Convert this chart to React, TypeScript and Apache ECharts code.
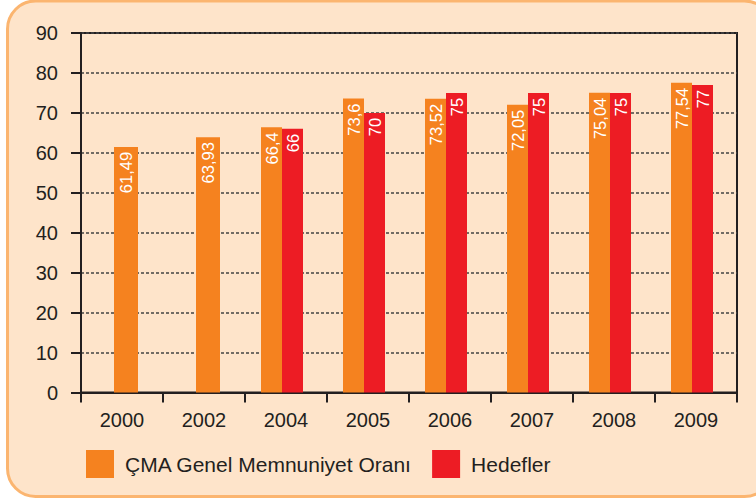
import React, { useEffect, useRef } from "react";
import * as echarts from "echarts";

const categories = ["2000", "2002", "2004", "2005", "2006", "2007", "2008", "2009"];
const satisfaction = [61.49, 63.93, 66.4, 73.6, 73.52, 72.05, 75.04, 77.54];
const targets: (number | null)[] = [null, null, 66, 70, 75, 75, 75, 77];
const yTicks = { min: 0, max: 90, interval: 10 };
const SAT_NAME = "ÇMA Genel Memnuniyet Oranı";
const TARGET_NAME = "Hedefler";

const FONT = "Liberation Sans, Arial, Helvetica, sans-serif";
const DARK = "#231f20";
const ORANGE = "#f5821f";
const RED = "#ed1c24";

export default function App() {
  const ref = useRef<HTMLDivElement>(null);
  useEffect(() => {
    if (!ref.current) return;
    const chart = echarts.init(ref.current, null, { renderer: "svg" });
    const paired = satisfaction.map((v, i) => (targets[i] == null ? null : v));
    const single = satisfaction.map((v, i) => (targets[i] == null ? v : null));
    const empty = categories.map(() => null);
    const label = {
      show: true,
      position: "insideTop",
      rotate: 90,
      align: "right",
      verticalAlign: "middle",
      distance: 5,
      color: "#ffffff",
      fontSize: 16.5,
      fontFamily: FONT,
      formatter: (p: any) => String(p.value).replace(".", ","),
    };
    chart.setOption({
      animation: false,
      textStyle: { fontFamily: FONT },
      graphic: [
        {
          type: "rect",
          z: -10,
          silent: true,
          shape: { x: 7.5, y: 1, width: 765, height: 495.5, r: 28 },
          style: { fill: "#fee4ca", stroke: "#fbb570", lineWidth: 3 },
        },
      ],
      legend: {
        data: [SAT_NAME, TARGET_NAME],
        left: 86,
        top: 450,
        padding: 0,
        itemWidth: 28,
        itemHeight: 28,
        itemGap: 20,
        icon: "rect",
        textStyle: { fontSize: 21, color: DARK, fontFamily: FONT, padding: [0, 0, 0, 6] },
      },
      grid: {
        left: 81,
        right: 19,
        top: 33,
        bottom: 106.5,
        show: true,
        borderColor: DARK,
        borderWidth: 2,
        backgroundColor: "transparent",
        containLabel: false,
        outerBoundsMode: "none",
      },
      xAxis: [
        {
          type: "category",
          data: categories,
          axisLine: { lineStyle: { color: DARK, width: 2 } },
          axisTick: { show: true, length: 10, lineStyle: { color: DARK, width: 2 } },
          axisLabel: { fontSize: 20, color: DARK, margin: 17, fontFamily: FONT },
          splitLine: { show: false },
        },
        {
          type: "category",
          data: categories,
          show: false,
          gridIndex: 0,
        },
      ],
      yAxis: {
        type: "value",
        min: yTicks.min,
        max: yTicks.max,
        interval: yTicks.interval,
        axisLine: { show: true, lineStyle: { color: DARK, width: 2 } },
        axisTick: { show: true, length: 10, lineStyle: { color: DARK, width: 2 } },
        axisLabel: { fontSize: 20, color: DARK, margin: 23, fontFamily: FONT },
        splitLine: { show: true, lineStyle: { type: [3, 2], color: "#444444", width: 1.5 } },
      },
      series: [
        {
          name: SAT_NAME,
          type: "bar",
          xAxisIndex: 0,
          data: paired,
          barWidth: 21,
          barGap: 0,
          itemStyle: { color: ORANGE },
          label,
        },
        {
          name: TARGET_NAME,
          type: "bar",
          xAxisIndex: 0,
          data: targets,
          barWidth: 21,
          barGap: 0,
          itemStyle: { color: RED },
          label,
        },
        {
          name: "_padA",
          type: "bar",
          xAxisIndex: 0,
          data: empty,
          barWidth: 8,
          barGap: 0,
          itemStyle: { color: "transparent" },
        },
        {
          name: "_padB",
          type: "bar",
          xAxisIndex: 1,
          data: empty,
          barWidth: 8,
          barGap: 0,
          itemStyle: { color: "transparent" },
        },
        {
          name: SAT_NAME,
          type: "bar",
          xAxisIndex: 1,
          data: single,
          barWidth: 24,
          barGap: 0,
          itemStyle: { color: ORANGE },
          label,
        },
      ],
    });
    return () => chart.dispose();
  }, []);
  return (
    <div
      ref={ref}
      style={{ position: "absolute", left: 0, top: 0, width: 756, height: 499, background: "#ffffff" }}
    />
  );
}
